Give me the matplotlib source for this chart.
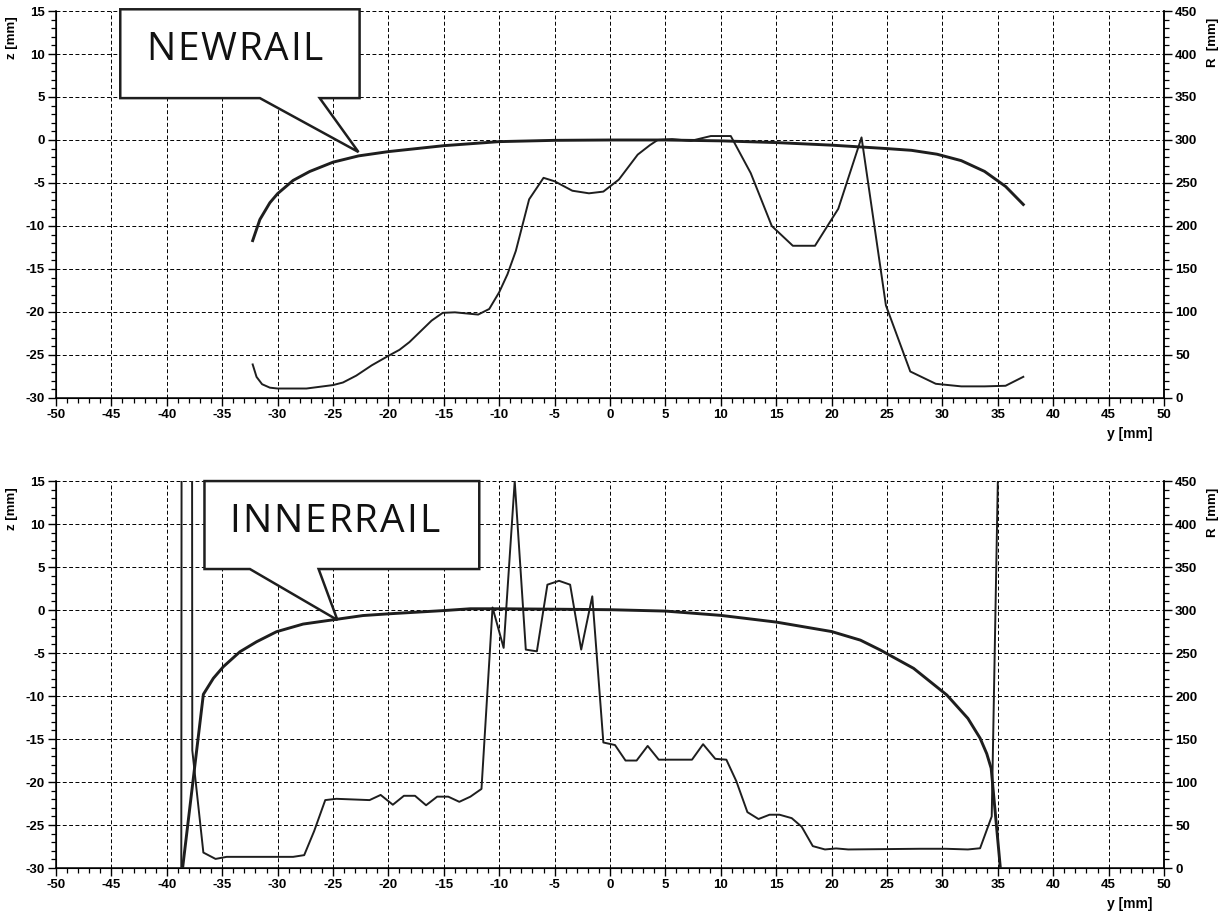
import matplotlib
matplotlib.use("Agg")
import matplotlib.pyplot as plt
from matplotlib import font_manager
from matplotlib.font_manager import FontProperties
from matplotlib.ft2font import FT2Font
from matplotlib.patches import Polygon
from matplotlib.ticker import MultipleLocator
from matplotlib.transforms import offset_copy

plt.rcParams['font.family'] = ['Liberation Sans', 'DejaVu Sans']
plt.rcParams['axes.unicode_minus'] = False

DPI = 100

# NEWRAIL profile z(y) and radius R(y)
new_y_z = [-32.25, -31.6, -30.7, -30.0, -28.6, -27.1, -25.0, -22.7, -20.0, -15.0, -10.0, -5.0,
           0.0, 5.0, 10.0, 15.0, 20.0, 25.0, 27.2, 29.5, 31.7, 33.8, 35.7, 37.3]
new_z = [-11.7, -9.25, -7.3, -6.24, -4.7, -3.66, -2.58, -1.85, -1.35, -0.66, -0.19, -0.04,
         0.0, 0.0, -0.1, -0.3, -0.6, -1.0, -1.2, -1.65, -2.4, -3.65, -5.4, -7.5]
new_y_r = [-32.25, -31.9, -31.4, -30.7, -30.0, -27.4, -25.0, -24.1, -22.9, -21.5, -20.0, -19.0,
           -18.1, -16.1, -15.1, -14.0, -11.9, -10.9, -10.0, -9.25, -8.5, -7.3, -6.0, -5.0,
           -3.4, -1.9, -0.6, 0.8, 2.5, 3.6, 4.3, 5.6, 7.3, 9.1, 10.9, 12.7, 14.6, 16.5,
           18.5, 20.6, 22.7, 24.9, 27.1, 29.4, 31.7, 33.8, 35.7, 37.3]
new_r = [39, 24.5, 16, 12, 11, 11, 15, 18, 26, 38, 49, 56,
         65, 90, 99, 99.6, 97, 103.5, 123, 144, 171, 231, 256, 252,
         241, 238, 240, 254, 283, 294, 300, 301, 299, 304.6, 304.6, 261.5, 200, 177,
         177, 220, 303, 107.7, 30.8, 16.5, 13.5, 13.5, 14.2, 24.6]

# INNERRAIL profile z(y) and radius R(y)
inner_y_z = [-38.62, -36.7, -35.8, -34.9, -33.4, -31.9, -30.1, -27.7, -24.7, -22.3, -20.0,
             -15.0, -12.6, -10.0, -5.0, 0.0, 5.0, 10.0, 15.0, 20.0, 22.6, 24.4, 27.4, 30.4,
             32.3, 33.4, 34.0, 34.4, 35.25]
inner_z = [-30.5, -9.8, -7.94, -6.59, -4.85, -3.69, -2.52, -1.63, -1.08, -0.64, -0.44,
           -0.06, 0.15, 0.15, 0.1, 0.04, -0.12, -0.62, -1.4, -2.5, -3.5, -4.65, -6.78, -9.88,
           -12.6, -14.9, -16.7, -18.4, -30.3]
inner_y_r = [-38.72, -38.2, -37.7, -36.7, -35.6, -34.6, -28.6, -27.6, -26.7, -25.7, -24.7,
             -21.7, -20.7, -19.6, -18.6, -17.6, -16.6, -15.6, -14.6, -13.6, -12.6, -11.6,
             -10.6, -9.6, -8.6, -7.6, -6.6, -5.65, -4.6, -3.6, -2.6, -1.6, -0.6, 0.45, 1.4,
             2.4, 3.4, 4.4, 7.4, 8.4, 9.5, 10.5, 11.4, 12.4, 13.4, 14.4, 15.3, 16.4, 17.3,
             18.3, 19.4, 20.4, 21.5, 28.0, 30.3, 32.3, 33.4, 34.45, 35.1]
inner_r = [-500, 9000, 137, 18, 10.6, 13, 13, 15, 43, 79, 80.5,
           79, 85, 73.6, 84, 84, 73, 83, 83, 77, 83, 92,
           303, 256, 450, 254, 252, 329.5, 334, 329.5, 254, 316, 146, 143, 125,
           125, 142, 126, 126, 144, 127, 126, 101, 65, 57, 62, 62, 58, 48,
           25.5, 21.6, 22.8, 21.6, 22.4, 22.4, 21.6, 23, 60, 520]

LINE = '#1e1e1e'
LABEL_FONT = 'Open Sans'
LABEL_SIZE = 28


def spaced_text(ax, trans, x, y, label, width_px):
    # draw the label letter by letter so it spans width_px (wide tracking)
    ft = FT2Font(font_manager.findfont(FontProperties(family=LABEL_FONT)))
    ft.set_size(LABEL_SIZE, DPI)
    adv = [ft.load_char(ord(c)).linearHoriAdvance / 65536 for c in label]
    track = (width_px - sum(adv)) / (len(label) - 1)
    dx = -width_px / 2
    for c, a in zip(label, adv):
        ax.text(x, y, c, transform=offset_copy(trans, x=dx, y=0, units='dots'),
                fontsize=LABEL_SIZE, family=[LABEL_FONT, 'DejaVu Sans'], color='#111111',
                ha='left', va='baseline', zorder=11)
        dx += a + track


def callout(ax, host, label, box, base, tip, text_pos, width_px):
    # speech-bubble label: box (x0, x1, z0, z1), pointer base (xa, xb), tip (x, z)
    x0, x1, z0, z1 = box
    pts = [(x0, z0), (x0, z1), (x1, z1), (x1, z0), (base[1], z0), tip, (base[0], z0)]
    poly = Polygon(pts, closed=True, facecolor='white', edgecolor=LINE, lw=1.8,
                   transform=host.transData, clip_on=False, zorder=10, joinstyle='miter')
    ax.add_patch(poly)
    spaced_text(ax, host.transData, text_pos[0], text_pos[1], label, width_px)


def setup(ax):
    ax.set_xlim(-50, 50)
    ax.set_ylim(-30, 15)
    ax.xaxis.set_major_locator(MultipleLocator(5))
    ax.xaxis.set_minor_locator(MultipleLocator(1))
    ax.yaxis.set_major_locator(MultipleLocator(5))
    ax.yaxis.set_minor_locator(MultipleLocator(1))
    ax.grid(True, which='major', color='black', lw=0.7, linestyle=(0, (4, 2.5)))
    ax.spines['top'].set_visible(False)
    for s in ('left', 'bottom', 'right'):
        ax.spines[s].set_linewidth(1.1)
    ax.tick_params(which='major', direction='out', length=6, width=1, labelsize=9.5, pad=2)
    ax.tick_params(which='minor', direction='out', length=3.5, width=0.9)
    for lab in ax.get_xticklabels() + ax.get_yticklabels():
        lab.set_fontweight('bold')
    ax.text(-0.040, 0.93, 'z [mm]', transform=ax.transAxes, rotation=90, ha='center',
            va='center', fontsize=9.5, fontweight='bold')
    ax.text(0.969, -0.093, 'y [mm]', transform=ax.transAxes, ha='center', va='center',
            fontsize=10, fontweight='bold')

    ax2 = ax.twinx()
    ax2.set_ylim(0, 450)
    ax2.yaxis.set_major_locator(MultipleLocator(50))
    ax2.yaxis.set_minor_locator(MultipleLocator(10))
    ax2.spines['top'].set_visible(False)
    ax2.spines['right'].set_linewidth(1.1)
    ax2.tick_params(which='major', direction='out', length=6, width=1, labelsize=9.5, pad=2)
    ax2.tick_params(which='minor', direction='out', length=3.5, width=0.9)
    for lab in ax2.get_yticklabels():
        lab.set_fontweight('bold')
    ax2.text(1.044, 0.92, 'R  [mm]', transform=ax.transAxes, rotation=90, ha='center',
             va='center', fontsize=9.5, fontweight='bold')
    return ax2


fig = plt.figure(figsize=(12.28, 9.17), dpi=DPI)
ax_top = fig.add_axes([0.0456, 0.566, 0.9023, 0.422])
ax_bot = fig.add_axes([0.0456, 0.0534, 0.9023, 0.422])

for ax, yz, z, yr, r, label, box, base, tip, tpos, wpx in [
    (ax_top, new_y_z, new_z, new_y_r, new_r, 'NEWRAIL',
     (-44.2, -22.6, 4.87, 15.2), (-31.6, -26.2), (-22.7, -1.4), (-33.9, 9.28), 177),
    (ax_bot, inner_y_z, inner_z, inner_y_r, inner_r, 'INNERRAIL',
     (-36.6, -11.8, 4.77, 15.0), (-32.5, -26.3), (-24.6, -1.16), (-24.9, 9.07), 210),
]:
    ax2 = setup(ax)
    ax.plot(yz, z, color=LINE, lw=2.1, zorder=3)
    ax2.plot(yr, r, color=LINE, lw=1.4, zorder=3)
    callout(ax2, ax, label, box, base, tip, tpos, wpx)

fig.savefig('out.png', dpi=DPI)
